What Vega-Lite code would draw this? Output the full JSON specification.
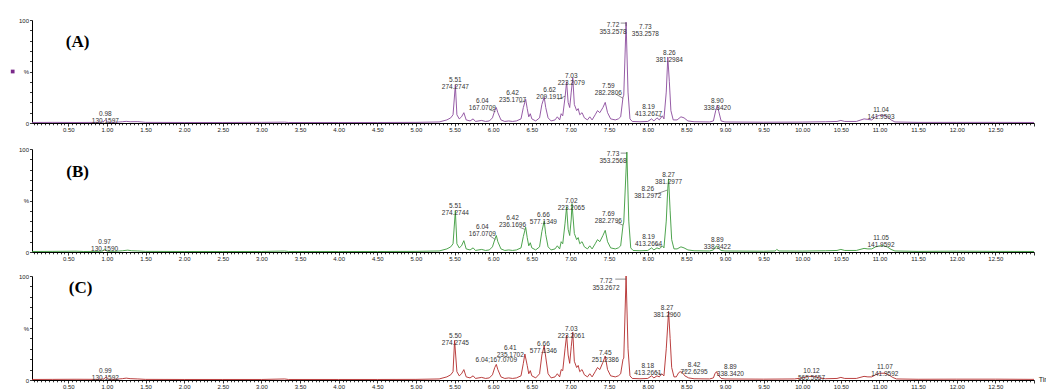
{
  "$schema": "https://vega.github.io/schema/vega-lite/v6.json",
  "padding": {"left": 10, "top": 17, "right": 0, "bottom": 0},
  "spacing": 13,
  "config": {
    "view": {"stroke": null},
    "font": "Liberation Sans",
    "axis": {"labelFont": "Liberation Sans", "labelFontSize": 6, "labelColor": "#222", "domainColor": "#000", "tickColor": "#000", "grid": false, "title": null, "domainWidth": 1, "tickWidth": 0.8},
    "rule": {"color": "#444", "strokeWidth": 0.6},
    "text": {"fontSize": 6.5, "lineBreak": "\n", "lineHeight": 7, "baseline": "bottom", "color": "#333"}
  },
  "datasets": {
    "traceA": [
      {"t":0.03,"v":0.5},{"t":0.3,"v":0.6},{"t":0.6,"v":0.5},{"t":0.9,"v":0.6},{"t":0.95,"v":1},{"t":0.98,"v":3},{"t":1.01,"v":0.8},{"t":1.1,"v":0.6},{"t":1.2,"v":1.2},{"t":1.25,"v":1.6},{"t":1.3,"v":1.2},{"t":1.4,"v":1.3},{"t":1.5,"v":0.6},{"t":2.0,"v":0.5},{"t":2.5,"v":0.5},{"t":3.0,"v":0.6},{"t":3.3,"v":0.8},{"t":3.35,"v":0.5},{"t":4.0,"v":0.5},{"t":4.5,"v":0.5},{"t":5.0,"v":0.6},{"t":5.3,"v":1},{"t":5.4,"v":3},{"t":5.45,"v":5},{"t":5.48,"v":8},{"t":5.51,"v":37},{"t":5.53,"v":8},{"t":5.56,"v":4},{"t":5.59,"v":6},{"t":5.62,"v":10},{"t":5.65,"v":3},{"t":5.7,"v":2},{"t":5.74,"v":4},{"t":5.77,"v":1.5},{"t":5.85,"v":2.5},{"t":5.9,"v":1.5},{"t":5.95,"v":2},{"t":5.99,"v":5},{"t":6.02,"v":12},{"t":6.04,"v":15},{"t":6.06,"v":10},{"t":6.1,"v":3},{"t":6.15,"v":1.5},{"t":6.2,"v":2},{"t":6.25,"v":1.5},{"t":6.3,"v":2},{"t":6.36,"v":4},{"t":6.39,"v":15},{"t":6.42,"v":23},{"t":6.44,"v":14},{"t":6.46,"v":6},{"t":6.48,"v":9},{"t":6.5,"v":4},{"t":6.55,"v":2},{"t":6.6,"v":5},{"t":6.63,"v":18},{"t":6.66,"v":25},{"t":6.68,"v":15},{"t":6.71,"v":5},{"t":6.75,"v":2},{"t":6.8,"v":3},{"t":6.83,"v":6},{"t":6.86,"v":3},{"t":6.88,"v":9},{"t":6.9,"v":7},{"t":6.93,"v":25},{"t":6.95,"v":40},{"t":6.97,"v":20},{"t":6.99,"v":15},{"t":7.01,"v":30},{"t":7.03,"v":44},{"t":7.05,"v":18},{"t":7.08,"v":12},{"t":7.1,"v":14},{"t":7.12,"v":8},{"t":7.15,"v":10},{"t":7.18,"v":5},{"t":7.22,"v":3},{"t":7.25,"v":6},{"t":7.28,"v":3},{"t":7.32,"v":8},{"t":7.35,"v":12},{"t":7.38,"v":10},{"t":7.42,"v":15},{"t":7.45,"v":20},{"t":7.48,"v":10},{"t":7.52,"v":4},{"t":7.58,"v":3},{"t":7.62,"v":4},{"t":7.65,"v":6},{"t":7.68,"v":25},{"t":7.69,"v":27},{"t":7.72,"v":98},{"t":7.745,"v":30},{"t":7.77,"v":4},{"t":7.8,"v":1.5},{"t":7.9,"v":1.2},{"t":8.0,"v":1.5},{"t":8.05,"v":4},{"t":8.08,"v":2},{"t":8.12,"v":5},{"t":8.15,"v":3},{"t":8.19,"v":7},{"t":8.21,"v":4},{"t":8.24,"v":30},{"t":8.26,"v":64},{"t":8.28,"v":40},{"t":8.3,"v":12},{"t":8.33,"v":3},{"t":8.38,"v":3},{"t":8.43,"v":6},{"t":8.47,"v":5},{"t":8.52,"v":2},{"t":8.6,"v":1.2},{"t":8.8,"v":1},{"t":8.85,"v":2},{"t":8.88,"v":12},{"t":8.9,"v":17},{"t":8.92,"v":11},{"t":8.95,"v":2},{"t":9.0,"v":1},{"t":9.5,"v":0.8},{"t":10.0,"v":0.9},{"t":10.3,"v":1.2},{"t":10.45,"v":1.5},{"t":10.5,"v":2.5},{"t":10.55,"v":1.5},{"t":10.7,"v":1.5},{"t":10.8,"v":4},{"t":10.85,"v":3.5},{"t":10.9,"v":3},{"t":10.95,"v":6},{"t":11.0,"v":7.5},{"t":11.05,"v":7.5},{"t":11.1,"v":6},{"t":11.15,"v":3},{"t":11.2,"v":1},{"t":11.5,"v":0.6},{"t":12.0,"v":0.6},{"t":12.5,"v":0.6},{"t":13.0,"v":0.5}
    ],
    "traceB": [
      {"t":0.03,"v":0.5},{"t":0.3,"v":0.6},{"t":0.6,"v":0.8},{"t":0.7,"v":0.5},{"t":0.9,"v":0.6},{"t":0.95,"v":1},{"t":0.97,"v":3},{"t":1.0,"v":0.8},{"t":1.1,"v":0.6},{"t":1.2,"v":1.2},{"t":1.27,"v":1.8},{"t":1.32,"v":1.2},{"t":1.4,"v":1.0},{"t":1.5,"v":0.6},{"t":2.0,"v":0.5},{"t":2.5,"v":0.5},{"t":3.0,"v":0.5},{"t":3.3,"v":0.9},{"t":3.35,"v":0.5},{"t":4.0,"v":0.5},{"t":4.5,"v":0.5},{"t":5.0,"v":0.6},{"t":5.3,"v":1},{"t":5.4,"v":3},{"t":5.45,"v":5},{"t":5.48,"v":8},{"t":5.51,"v":40},{"t":5.53,"v":8},{"t":5.56,"v":4},{"t":5.59,"v":6},{"t":5.62,"v":11},{"t":5.65,"v":3},{"t":5.7,"v":2},{"t":5.74,"v":4},{"t":5.77,"v":1.5},{"t":5.85,"v":2.5},{"t":5.9,"v":1.5},{"t":5.95,"v":2},{"t":5.99,"v":5},{"t":6.02,"v":12},{"t":6.04,"v":16},{"t":6.06,"v":10},{"t":6.1,"v":3},{"t":6.15,"v":1.5},{"t":6.2,"v":2},{"t":6.25,"v":1.5},{"t":6.3,"v":2},{"t":6.36,"v":4},{"t":6.39,"v":15},{"t":6.42,"v":24},{"t":6.44,"v":14},{"t":6.46,"v":6},{"t":6.48,"v":9},{"t":6.5,"v":4},{"t":6.55,"v":2},{"t":6.6,"v":5},{"t":6.63,"v":20},{"t":6.66,"v":30},{"t":6.68,"v":17},{"t":6.71,"v":5},{"t":6.75,"v":2},{"t":6.8,"v":3},{"t":6.83,"v":6},{"t":6.86,"v":3},{"t":6.88,"v":10},{"t":6.9,"v":8},{"t":6.93,"v":28},{"t":6.95,"v":44},{"t":6.97,"v":22},{"t":6.99,"v":16},{"t":7.01,"v":32},{"t":7.02,"v":47},{"t":7.05,"v":18},{"t":7.08,"v":12},{"t":7.1,"v":14},{"t":7.12,"v":8},{"t":7.15,"v":10},{"t":7.18,"v":5},{"t":7.22,"v":3},{"t":7.25,"v":6},{"t":7.28,"v":3},{"t":7.32,"v":8},{"t":7.35,"v":12},{"t":7.38,"v":10},{"t":7.42,"v":16},{"t":7.45,"v":21},{"t":7.48,"v":10},{"t":7.52,"v":4},{"t":7.58,"v":3},{"t":7.62,"v":4},{"t":7.65,"v":6},{"t":7.68,"v":26},{"t":7.69,"v":29},{"t":7.73,"v":97},{"t":7.755,"v":30},{"t":7.78,"v":4},{"t":7.81,"v":1.5},{"t":7.9,"v":1.2},{"t":8.0,"v":1.5},{"t":8.05,"v":4},{"t":8.08,"v":2},{"t":8.12,"v":4},{"t":8.15,"v":3},{"t":8.19,"v":6},{"t":8.21,"v":4},{"t":8.24,"v":30},{"t":8.26,"v":62},{"t":8.27,"v":71},{"t":8.29,"v":40},{"t":8.31,"v":12},{"t":8.34,"v":3},{"t":8.38,"v":3},{"t":8.43,"v":5},{"t":8.47,"v":4},{"t":8.52,"v":2},{"t":8.6,"v":1.2},{"t":8.8,"v":1},{"t":8.85,"v":2},{"t":8.88,"v":5},{"t":8.89,"v":6},{"t":8.91,"v":4},{"t":8.95,"v":1.5},{"t":9.0,"v":1},{"t":9.5,"v":0.8},{"t":9.65,"v":1},{"t":9.67,"v":2.5},{"t":9.7,"v":1},{"t":10.0,"v":0.9},{"t":10.3,"v":1.2},{"t":10.45,"v":1.5},{"t":10.5,"v":2.5},{"t":10.55,"v":1.5},{"t":10.7,"v":1.5},{"t":10.8,"v":3.5},{"t":10.85,"v":3},{"t":10.9,"v":3},{"t":10.95,"v":5},{"t":11.0,"v":6},{"t":11.05,"v":6},{"t":11.1,"v":5},{"t":11.15,"v":2.5},{"t":11.2,"v":1},{"t":11.5,"v":0.6},{"t":12.0,"v":0.8},{"t":12.5,"v":0.6},{"t":13.0,"v":0.5}
    ],
    "traceC": [
      {"t":0.03,"v":0.5},{"t":0.3,"v":0.6},{"t":0.6,"v":0.7},{"t":0.9,"v":0.6},{"t":0.96,"v":1},{"t":0.99,"v":3},{"t":1.02,"v":0.8},{"t":1.1,"v":0.6},{"t":1.2,"v":1.3},{"t":1.25,"v":1.8},{"t":1.3,"v":1.3},{"t":1.4,"v":1.0},{"t":1.5,"v":0.6},{"t":2.0,"v":0.5},{"t":2.5,"v":0.5},{"t":3.0,"v":0.5},{"t":3.3,"v":1.0},{"t":3.35,"v":0.5},{"t":4.0,"v":0.5},{"t":4.5,"v":0.5},{"t":5.0,"v":0.6},{"t":5.3,"v":1},{"t":5.4,"v":3},{"t":5.45,"v":5},{"t":5.48,"v":8},{"t":5.5,"v":38},{"t":5.53,"v":8},{"t":5.56,"v":4},{"t":5.59,"v":6},{"t":5.62,"v":10},{"t":5.65,"v":3},{"t":5.7,"v":2},{"t":5.74,"v":4},{"t":5.77,"v":1.5},{"t":5.85,"v":2.5},{"t":5.9,"v":1.5},{"t":5.95,"v":2},{"t":5.99,"v":5},{"t":6.02,"v":12},{"t":6.04,"v":15},{"t":6.06,"v":10},{"t":6.1,"v":3},{"t":6.15,"v":1.5},{"t":6.2,"v":2},{"t":6.25,"v":1.5},{"t":6.3,"v":2},{"t":6.36,"v":4},{"t":6.39,"v":16},{"t":6.41,"v":25},{"t":6.44,"v":14},{"t":6.46,"v":6},{"t":6.48,"v":9},{"t":6.5,"v":4},{"t":6.55,"v":2},{"t":6.6,"v":6},{"t":6.63,"v":24},{"t":6.66,"v":33},{"t":6.68,"v":22},{"t":6.71,"v":6},{"t":6.75,"v":2},{"t":6.8,"v":3},{"t":6.83,"v":6},{"t":6.86,"v":3},{"t":6.88,"v":10},{"t":6.9,"v":9},{"t":6.93,"v":30},{"t":6.95,"v":43},{"t":6.97,"v":24},{"t":6.99,"v":16},{"t":7.01,"v":32},{"t":7.03,"v":46},{"t":7.05,"v":18},{"t":7.08,"v":12},{"t":7.1,"v":14},{"t":7.12,"v":8},{"t":7.15,"v":10},{"t":7.18,"v":5},{"t":7.22,"v":3},{"t":7.25,"v":6},{"t":7.28,"v":3},{"t":7.32,"v":8},{"t":7.35,"v":12},{"t":7.38,"v":10},{"t":7.42,"v":17},{"t":7.45,"v":23},{"t":7.48,"v":10},{"t":7.52,"v":4},{"t":7.58,"v":3},{"t":7.62,"v":4},{"t":7.65,"v":6},{"t":7.68,"v":20},{"t":7.69,"v":21},{"t":7.72,"v":100},{"t":7.745,"v":30},{"t":7.77,"v":4},{"t":7.8,"v":1.5},{"t":7.9,"v":1.2},{"t":8.0,"v":1.5},{"t":8.05,"v":4},{"t":8.08,"v":2},{"t":8.12,"v":4},{"t":8.15,"v":3},{"t":8.18,"v":6},{"t":8.21,"v":4},{"t":8.24,"v":30},{"t":8.27,"v":66},{"t":8.29,"v":40},{"t":8.31,"v":12},{"t":8.34,"v":3},{"t":8.37,"v":3},{"t":8.4,"v":7},{"t":8.42,"v":8},{"t":8.45,"v":7},{"t":8.48,"v":4},{"t":8.53,"v":2},{"t":8.6,"v":1.2},{"t":8.8,"v":1},{"t":8.85,"v":2},{"t":8.87,"v":6},{"t":8.89,"v":8},{"t":8.91,"v":5},{"t":8.95,"v":1.5},{"t":9.0,"v":1},{"t":9.5,"v":0.8},{"t":9.9,"v":1},{"t":10.0,"v":2},{"t":10.08,"v":3.5},{"t":10.15,"v":3.5},{"t":10.22,"v":2},{"t":10.3,"v":1.2},{"t":10.45,"v":1.5},{"t":10.5,"v":2.5},{"t":10.55,"v":1.5},{"t":10.7,"v":1.5},{"t":10.8,"v":3.5},{"t":10.85,"v":3},{"t":10.9,"v":3},{"t":10.95,"v":5},{"t":11.0,"v":6.5},{"t":11.07,"v":6.5},{"t":11.12,"v":5},{"t":11.17,"v":2.5},{"t":11.22,"v":1},{"t":11.5,"v":0.7},{"t":12.0,"v":0.8},{"t":12.5,"v":0.8},{"t":13.0,"v":0.6}
    ],
    "labA": [
      {"t":0.98,"v":6,"txt":"0.98\n130.1597"},
      {"t":5.51,"v":39,"txt":"5.51\n274.2747"},
      {"t":5.86,"v":18,"txt":"6.04\n167.0709"},
      {"t":6.25,"v":26,"txt":"6.42\n235.1707"},
      {"t":6.73,"v":29,"txt":"6.62\n209.1911"},
      {"t":7.01,"v":43,"txt":"7.03\n223.2079"},
      {"t":7.49,"v":33,"txt":"7.59\n282.2806"},
      {"t":7.55,"v":92,"txt":"7.72\n353.2578"},
      {"t":7.97,"v":90,"txt":"7.73\n353.2578"},
      {"t":8.01,"v":13,"txt":"8.19\n413.2677"},
      {"t":8.28,"v":65,"txt":"8.26\n381.2984"},
      {"t":8.9,"v":18,"txt":"8.90\n338.3420"},
      {"t":11.02,"v":10,"txt":"11.04\n141.9593"}
    ],
    "labB": [
      {"t":0.97,"v":7,"txt":"0.97\n130.1590"},
      {"t":5.51,"v":42,"txt":"5.51\n274.2744"},
      {"t":5.86,"v":21,"txt":"6.04\n167.0709"},
      {"t":6.25,"v":30,"txt":"6.42\n236.1696"},
      {"t":6.65,"v":33,"txt":"6.66\n577.1349"},
      {"t":7.01,"v":47,"txt":"7.02\n223.2065"},
      {"t":7.49,"v":34,"txt":"7.69\n282.2796"},
      {"t":7.55,"v":92,"txt":"7.73\n353.2568"},
      {"t":8.0,"v":58,"txt":"8.26\n381.2972"},
      {"t":8.27,"v":72,"txt":"8.27\n381.2977"},
      {"t":8.01,"v":12,"txt":"8.19\n413.2664"},
      {"t":8.9,"v":9,"txt":"8.89\n338.3422"},
      {"t":11.02,"v":11,"txt":"11.05\n141.9592"}
    ],
    "labC": [
      {"t":0.98,"v":6,"txt":"0.99\n130.1592"},
      {"t":5.51,"v":39,"txt":"5.50\n274.2745"},
      {"t":6.04,"v":16,"txt":"6.04;167.0709"},
      {"t":6.22,"v":28,"txt":"6.41\n235.1702"},
      {"t":6.65,"v":32,"txt":"6.66\n577.1346"},
      {"t":7.01,"v":46,"txt":"7.03\n223.2061"},
      {"t":7.45,"v":23,"txt":"7.45\n251.2386"},
      {"t":7.46,"v":92,"txt":"7.72\n353.2672"},
      {"t":8.0,"v":11,"txt":"8.18\n413.2661"},
      {"t":8.25,"v":66,"txt":"8.27\n381.2960"},
      {"t":8.6,"v":12,"txt":"8.42\n722.6295"},
      {"t":9.07,"v":10,"txt":"8.89\n338.3420"},
      {"t":10.12,"v":6,"txt":"10.12\n565.5657"},
      {"t":11.07,"v":10,"txt":"11.07\n141.9592"}
    ],
    "leadA": [
      {"t":5.95,"v":13,"t2":6.03,"v2":11},
      {"t":6.34,"v":20,"t2":6.41,"v2":21},
      {"t":6.84,"v":23,"t2":6.93,"v2":26},
      {"t":7.59,"v":28,"t2":7.68,"v2":24},
      {"t":7.65,"v":97,"t2":7.72,"v2":97},
      {"t":7.72,"v":97,"t2":7.72,"v2":94},
      {"t":8.1,"v":8,"t2":8.18,"v2":6}
    ],
    "leadB": [
      {"t":5.95,"v":16,"t2":6.03,"v2":12},
      {"t":6.34,"v":24,"t2":6.41,"v2":22},
      {"t":7.59,"v":29,"t2":7.68,"v2":26},
      {"t":7.65,"v":96,"t2":7.73,"v2":96},
      {"t":8.1,"v":56,"t2":8.25,"v2":60},
      {"t":8.1,"v":8,"t2":8.18,"v2":5}
    ],
    "leadC": [
      {"t":7.58,"v":97,"t2":7.72,"v2":97},
      {"t":8.1,"v":8,"t2":8.18,"v2":5},
      {"t":8.5,"v":9,"t2":8.44,"v2":8}
    ]
  },
  "vconcat": [
    {
      "width": 1002, "height": 103,
      "encoding": {
        "x": {"field": "t", "type": "quantitative", "scale": {"domain": [0.03, 13.0], "nice": false, "zero": false},
              "axis": {"tickCount": 260, "labelOverlap": false, "labelFlush": false, "labelBound": false, "labelPadding": 0.5,
                       "labelExpr": "abs(datum.value*2-round(datum.value*2))<0.001 && datum.value<12.9 ? format(datum.value,'.2f') : ''",
                       "tickSize": {"condition": {"test": "abs(datum.value*2-round(datum.value*2))<0.001", "value": 3}, "value": 1.8}}},
        "y": {"field": "v", "type": "quantitative", "scale": {"domain": [0, 100], "nice": false},
              "axis": {"tickCount": 10, "tickSize": 2.5, "labelPadding": 1, "labelOverlap": false, "labelFlush": false,
                       "labelExpr": "datum.value==100 ? '100' : datum.value==50 ? '%' : datum.value==0 ? '0' : ''"}}
      },
      "layer": [
        {"data": {"name": "traceA"}, "mark": {"type": "line", "color": "#8a4a9c", "strokeWidth": 0.9}},
        {"data": {"name": "leadA"}, "mark": {"type": "rule"}, "encoding": {"x2": {"field": "t2"}, "y2": {"field": "v2"}}},
        {"data": {"name": "labA"}, "mark": {"type": "text"}, "encoding": {"text": {"field": "txt"}}},
        {"data": {"values": [{"t": 0.62, "v": 79, "txt": "(A)"}]}, "mark": {"type": "text", "font": "Liberation Serif", "fontWeight": "bold", "fontSize": 17, "color": "#000", "baseline": "middle"}, "encoding": {"text": {"field": "txt"}}},
        {"data": {"values": [{"t": -0.22, "v": 50}]}, "mark": {"type": "square", "size": 14, "color": "#7a2a8a", "filled": true, "opacity": 1}}
      ]
    },
    {
      "spacing": 11,
      "vconcat": [
        {
          "width": 1002, "height": 103,
          "encoding": {
            "x": {"field": "t", "type": "quantitative", "scale": {"domain": [0.03, 13.0], "nice": false, "zero": false},
                  "axis": {"tickCount": 260, "labelOverlap": false, "labelFlush": false, "labelBound": false, "labelPadding": 0.5,
                           "labelExpr": "abs(datum.value*2-round(datum.value*2))<0.001 && datum.value<12.9 ? format(datum.value,'.2f') : ''",
                           "tickSize": {"condition": {"test": "abs(datum.value*2-round(datum.value*2))<0.001", "value": 3}, "value": 1.8}}},
            "y": {"field": "v", "type": "quantitative", "scale": {"domain": [0, 100], "nice": false},
                  "axis": {"tickCount": 10, "tickSize": 2.5, "labelPadding": 1, "labelOverlap": false, "labelFlush": false,
                           "labelExpr": "datum.value==100 ? '100' : datum.value==50 ? '%' : datum.value==0 ? '0' : ''"}}
          },
          "layer": [
            {"data": {"name": "traceB"}, "mark": {"type": "line", "color": "#3a9a3a", "strokeWidth": 0.9}},
            {"data": {"name": "leadB"}, "mark": {"type": "rule"}, "encoding": {"x2": {"field": "t2"}, "y2": {"field": "v2"}}},
            {"data": {"name": "labB"}, "mark": {"type": "text"}, "encoding": {"text": {"field": "txt"}}},
            {"data": {"values": [{"t": 0.62, "v": 78, "txt": "(B)"}]}, "mark": {"type": "text", "font": "Liberation Serif", "fontWeight": "bold", "fontSize": 17, "color": "#000", "baseline": "middle"}, "encoding": {"text": {"field": "txt"}}}
          ]
        },
        {
          "width": 1002, "height": 104,
          "encoding": {
            "x": {"field": "t", "type": "quantitative", "scale": {"domain": [0.03, 13.0], "nice": false, "zero": false},
                  "axis": {"tickCount": 260, "labelOverlap": false, "labelFlush": false, "labelBound": false, "labelPadding": 0.5,
                           "labelExpr": "abs(datum.value*2-round(datum.value*2))<0.001 && datum.value<12.9 ? format(datum.value,'.2f') : ''",
                           "tickSize": {"condition": {"test": "abs(datum.value*2-round(datum.value*2))<0.001", "value": 3}, "value": 1.8}}},
            "y": {"field": "v", "type": "quantitative", "scale": {"domain": [0, 100], "nice": false},
                  "axis": {"tickCount": 10, "tickSize": 2.5, "labelPadding": 1, "labelOverlap": false, "labelFlush": false,
                           "labelExpr": "datum.value==100 ? '100' : datum.value==50 ? '%' : datum.value==0 ? '0' : ''"}}
          },
          "layer": [
            {"data": {"name": "traceC"}, "mark": {"type": "line", "color": "#b22a2a", "strokeWidth": 0.9}},
            {"data": {"name": "leadC"}, "mark": {"type": "rule"}, "encoding": {"x2": {"field": "t2"}, "y2": {"field": "v2"}}},
            {"data": {"name": "labC"}, "mark": {"type": "text"}, "encoding": {"text": {"field": "txt"}}},
            {"data": {"values": [{"t": 0.66, "v": 88, "txt": "(C)"}]}, "mark": {"type": "text", "font": "Liberation Serif", "fontWeight": "bold", "fontSize": 17, "color": "#000", "baseline": "middle"}, "encoding": {"text": {"field": "txt"}}},
            {"data": {"values": [{"t": 13.06, "v": 0, "txt": "Time"}]}, "mark": {"type": "text", "fontSize": 7, "align": "left", "baseline": "middle", "color": "#222"}, "encoding": {"text": {"field": "txt"}}}
          ]
        }
      ]
    }
  ]
}
